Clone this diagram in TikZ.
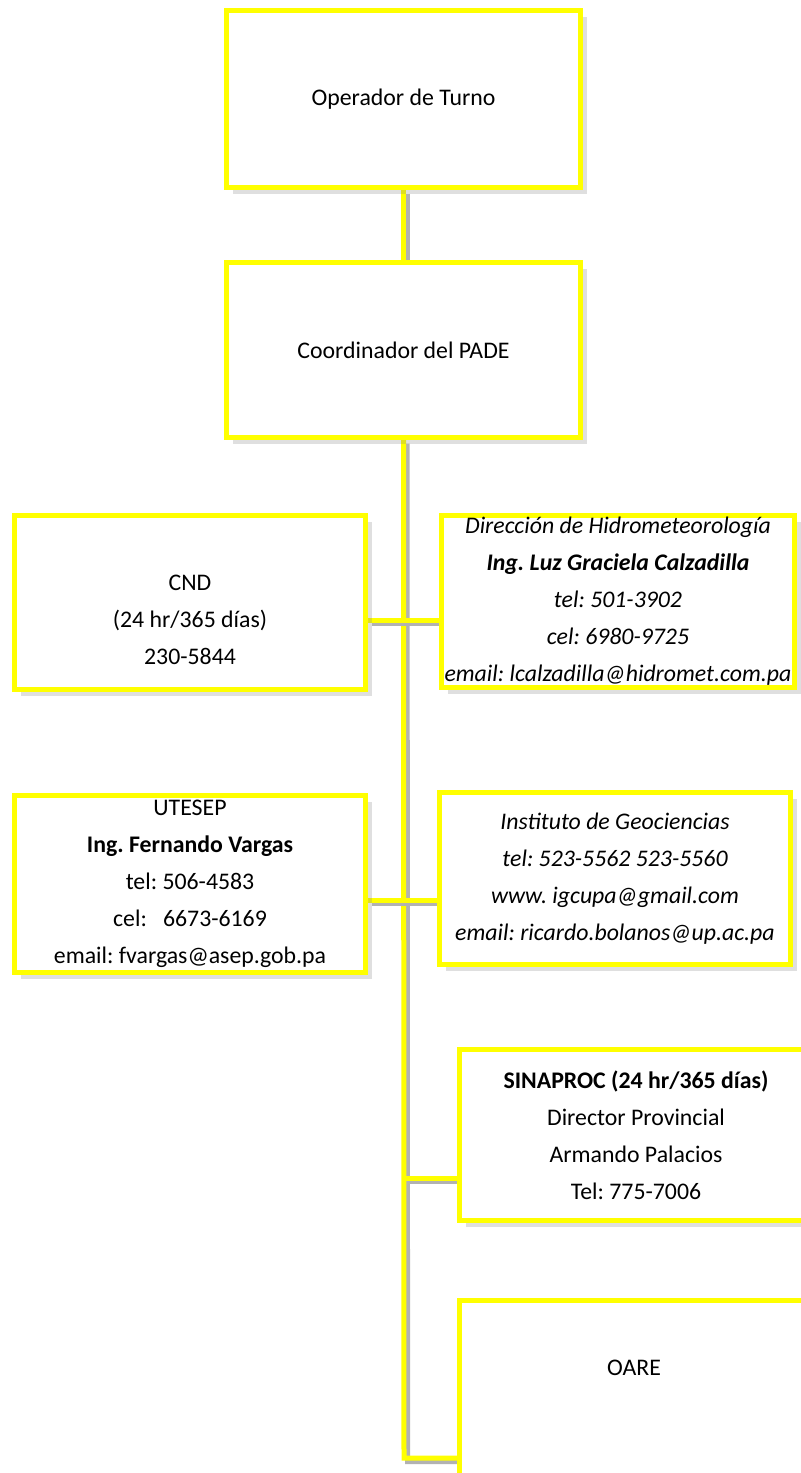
\documentclass[tikz,border=0pt]{standalone}
\usepackage{fontspec}
\setmainfont{Carlito}
\frenchspacing
\usetikzlibrary{shadows,backgrounds}
\definecolor{orgyellow}{RGB}{255,255,0}
\begin{document}
\begin{tikzpicture}[x=0.5pt,y=-0.5pt,
  unit/.style={draw=orgyellow, line width=2.5pt, fill=white, align=center,
    inner sep=0pt, font=\fontsize{11.9pt}{18.5pt}\selectfont,
    drop shadow={shadow xshift=3pt, shadow yshift=-3pt, opacity=0.25}},
  slant/.style={font=\fontsize{11.9pt}{18.5pt}\selectfont\itshape},
  words/.style={align=center, inner sep=0pt, font=\fontsize{11.9pt}{18.5pt}\selectfont},
  link/.style={draw=orgyellow, line width=2.5pt,
    preaction={draw=black!30, line width=2.5pt, transform canvas={shift={(1.8pt,-1.8pt)}}}}]
  \useasboundingbox (0,0) rectangle (801,1473);
  \clip (0,0) rectangle (801,1473);
  % top of the chart
  \node[unit, minimum width=177pt, minimum height=88.5pt] (oper) at (403.5,99) {Operador de Turno};
  \node[unit, minimum width=177pt, minimum height=87.5pt] (coord) at (403.5,350) {Coordinador del PADE};
  % left column
  \node[unit, minimum width=175.5pt, minimum height=87pt] (cnd) at (190,602.5) {};
  \node[words] (cndtext) at (190,620) {CND\\(24 hr/365 días)\\230-5844};
  \node[unit, minimum width=175.5pt, minimum height=88.5pt] (utesep) at (190,884)
    {UTESEP\\\textbf{Ing. Fernando Vargas}\\tel: 506-4583\\cel:~~~6673-6169\\email: fvargas@asep.gob.pa};
  % right column
  \node[unit, slant, minimum width=176.5pt, minimum height=86pt] (dir) at (618,601.5)
    {Dirección de Hidrometeorología\\\textbf{Ing. Luz Graciela Calzadilla}\\tel: 501-3902\\cel: 6980-9725\\email: lcalzadilla@hidromet.com.pa};
  \node[unit, slant, minimum width=175.5pt, minimum height=86pt] (inst) at (615,878.5)
    {Instituto de Geociencias\\tel: 523-5562 523-5560\\www. igcupa@gmail.com\\email: ricardo.bolanos@up.ac.pa};
  \node[unit, minimum width=176.5pt, minimum height=85.5pt] (sinaproc) at (636,1135)
    {\textbf{SINAPROC (24 hr/365 días)}\\Director Provincial\\Armando Palacios\\Tel: 775-7006};
  \node[unit, minimum width=176.5pt, minimum height=87.5pt] (oare) at (636,1388) {};
  \node[words] (oaretext) at (634,1368) {OARE};
  % connectors
  \begin{pgfonlayer}{background}
    \coordinate (j1) at (404,620);
    \coordinate (j2) at (404,900);
    \coordinate (j3) at (404,1178);
    \coordinate (foot) at (404,1458);
    \draw[link] (oper) -- (coord);
    \draw[link] (coord.south) -- (foot) -- (foot -| oare.west);
    \draw[link] (j1 -| cnd.east) -- (j1 -| dir.west);
    \draw[link] (j2 -| utesep.east) -- (j2 -| inst.west);
    \draw[link] (j3) -- (j3 -| sinaproc.west);
  \end{pgfonlayer}
\end{tikzpicture}
\end{document}
